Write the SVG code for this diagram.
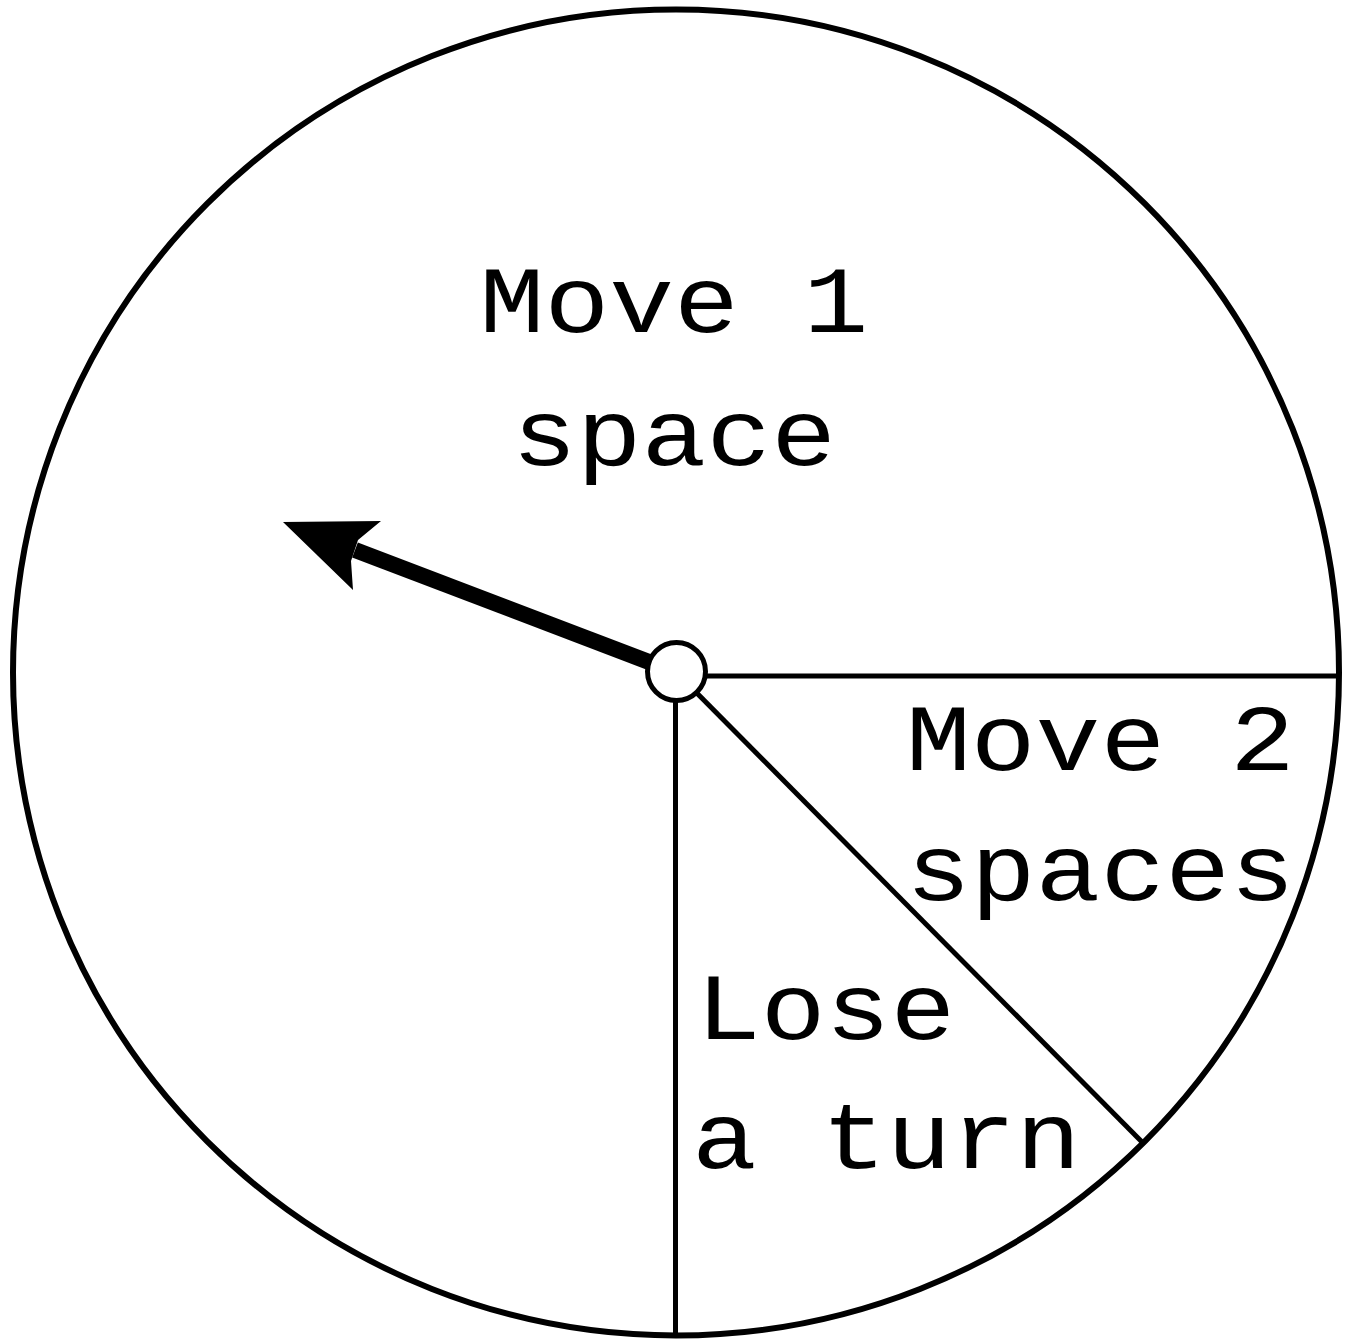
<svg xmlns="http://www.w3.org/2000/svg" width="1353" height="1340" viewBox="0 0 1353 1340">
<style>
.ln{stroke:#000;stroke-width:5;fill:none}
.lbl{font-family:"Liberation Mono","Courier New",monospace;font-size:108px;fill:#000}
</style>
<rect width="1353" height="1340" fill="#fff"/>
<g id="wheel">
<circle cx="676" cy="672.5" r="663" fill="#fff" stroke="#000" stroke-width="6"/>
</g>
<g id="dividers">
<line class="ln" x1="676" y1="676" x2="1339" y2="676"/>
<line class="ln" x1="675.5" y1="672" x2="675.5" y2="1336"/>
<line class="ln" x1="676" y1="672" x2="1143" y2="1143"/>
</g>
<g id="pointer">
<line x1="355" y1="550" x2="670" y2="670" stroke="#000" stroke-width="16"/>
<polygon points="283,522 381,521 358,540 351,561 353,590" fill="#000"/>
</g>
<g id="hub">
<circle cx="676.5" cy="671.5" r="29" fill="#fff" stroke="#000" stroke-width="5"/>
</g>
<g id="labels">
<text class="lbl" transform="matrix(1,0,0,0.88,674,332)" text-anchor="middle">Move 1</text>
<text class="lbl" transform="matrix(1,0,0,0.88,674,465)" text-anchor="middle">space</text>
<text class="lbl" transform="matrix(1,0,0,0.88,906,770)">Move 2</text>
<text class="lbl" transform="matrix(1,0,0,0.88,906,900)">spaces</text>
<text class="lbl" transform="matrix(1,0,0,0.88,696,1039)">Lose</text>
<text class="lbl" transform="matrix(1,0,0,0.88,692,1168)">a turn</text>
</g>
</svg>
